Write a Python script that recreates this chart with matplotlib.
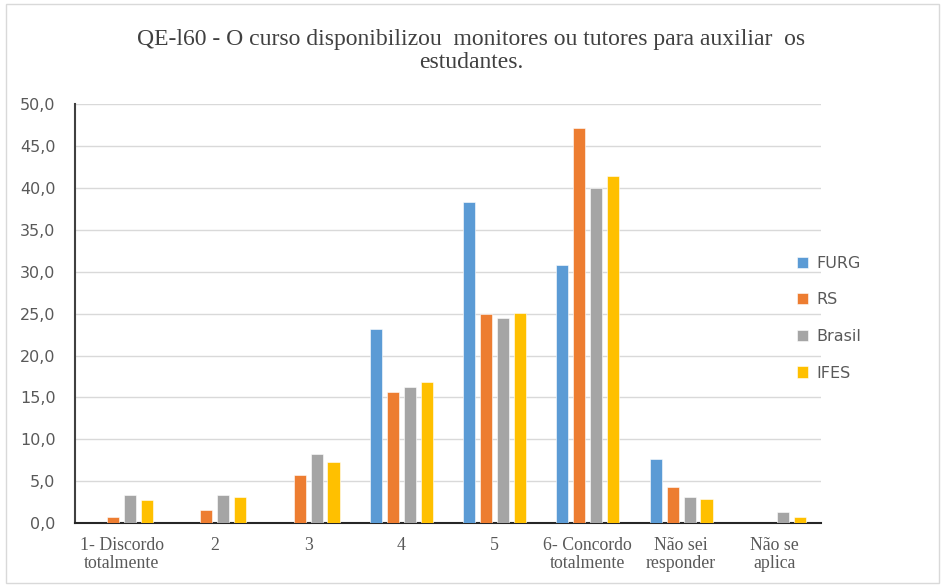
import matplotlib
matplotlib.use("Agg")
import matplotlib.pyplot as plt
from matplotlib.patches import Rectangle
import numpy as np

categories = ["1- Discordo\ntotalmente", "2", "3", "4", "5",
              "6- Concordo\ntotalmente", "Não sei\nresponder", "Não se\naplica"]
series_names = ["FURG", "RS", "Brasil", "IFES"]
furg = [0.0, 0.0, 0.0, 23.2, 38.4, 30.8, 7.7, 0.0]
rs = [0.7, 1.5, 5.7, 15.7, 25.0, 47.2, 4.3, 0.0]
brasil = [3.3, 3.3, 8.3, 16.3, 24.5, 40.0, 3.1, 1.3]
ifes = [2.7, 3.1, 7.3, 16.9, 25.1, 41.4, 2.9, 0.7]
yticks = [0, 5, 10, 15, 20, 25, 30, 35, 40, 45, 50]
ytick_labels = ["0,0", "5,0", "10,0", "15,0", "20,0", "25,0", "30,0", "35,0", "40,0", "45,0", "50,0"]
title = "QE-l60 - O curso disponibilizou  monitores ou tutores para auxiliar  os\nestudantes."

colors = ["#5B9BD5", "#ED7D31", "#A5A5A5", "#FFC000"]

fig = plt.figure(figsize=(9.43, 5.86), dpi=100)
fig.patches.append(Rectangle((0.006, 0.005), 0.99, 0.988, transform=fig.transFigure,
                             fill=False, edgecolor="#D9D9D9", linewidth=1))
ax = fig.add_axes([0.0795, 0.1075, 0.7911, 0.7142])

x = np.arange(len(categories))
step = 0.182
width = 0.13
for i, (vals, name) in enumerate(zip([furg, rs, brasil, ifes], series_names)):
    ax.bar(x + (i - 1.5) * step, vals, width=width, color=colors[i], label=name,
           edgecolor="white", linewidth=0.4, zorder=3)

ax.set_xlim(-0.5, len(categories) - 0.5)
ax.set_ylim(0, 50)
ax.set_yticks(yticks)
ax.set_yticklabels(ytick_labels, family="DejaVu Sans", fontsize=11.5, color="#595959")
ax.set_xticks(x)
ax.set_xticklabels(categories, family="Liberation Serif", fontsize=12.8, color="#595959",
                   linespacing=1.05)
ax.tick_params(axis="both", length=0)
ax.tick_params(axis="y", pad=14)
ax.tick_params(axis="x", pad=10)
ax.grid(axis="y", color="#D9D9D9", linewidth=1, zorder=0)
ax.set_axisbelow(True)
for s in ["top", "right"]:
    ax.spines[s].set_visible(False)
ax.spines["left"].set_color("#404040")
ax.spines["left"].set_linewidth(1.5)
ax.spines["bottom"].set_color("#262626")
ax.spines["bottom"].set_linewidth(1.5)

fig.text(0.5, 0.913, title, ha="center", va="center", family="Liberation Serif",
         fontsize=17, color="#404040", linespacing=1.08)

leg = fig.legend(loc="center left", bbox_to_anchor=(0.83, 0.457), frameon=False,
                 prop={"family": "DejaVu Sans", "size": 11.5}, labelspacing=1.35,
                 handlelength=0.7, handleheight=0.7, handletextpad=0.5)
for t in leg.get_texts():
    t.set_color("#595959")

fig.savefig("out.png", dpi=100)
